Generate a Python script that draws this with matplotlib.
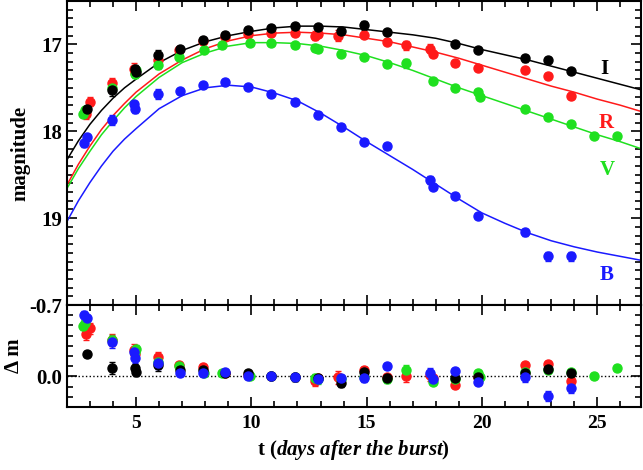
import matplotlib
matplotlib.use('Agg')
import matplotlib.pyplot as plt
from matplotlib.ticker import MultipleLocator, FixedLocator

plt.rcParams['font.family'] = ['Liberation Serif', 'DejaVu Serif']
plt.rcParams['font.weight'] = 'bold'
plt.rcParams['mathtext.fontset'] = 'custom'
plt.rcParams['mathtext.it'] = 'Liberation Serif:italic:bold'
plt.rcParams['mathtext.rm'] = 'Liberation Serif:bold'

# model curves (half days at the steep start)
model_t = [2, 2.5, 3, 3.5, 4, 4.5, 5, 6, 7, 8, 9, 10, 11, 12, 13, 14, 15, 16, 17,
           18, 19, 20, 21, 22, 23, 24, 25, 26, 27]
model_I = [18.33, 18.11, 17.92, 17.76, 17.62, 17.50, 17.40, 17.21, 17.07, 16.97,
           16.90, 16.85, 16.81, 16.79, 16.79, 16.80, 16.83, 16.86, 16.89, 16.93,
           16.99, 17.06, 17.12, 17.18, 17.25, 17.32, 17.39, 17.46, 17.53]
model_R = [18.62, 18.38, 18.17, 17.98, 17.82, 17.68, 17.55, 17.34, 17.18, 17.05,
           16.96, 16.90, 16.87, 16.86, 16.87, 16.89, 16.93, 16.97, 17.03, 17.09,
           17.16, 17.24, 17.32, 17.40, 17.48, 17.55, 17.63, 17.70, 17.78]
model_V = [18.66, 18.43, 18.23, 18.04, 17.88, 17.73, 17.60, 17.38, 17.21, 17.10,
           17.02, 16.98, 16.98, 16.99, 17.02, 17.07, 17.13, 17.21, 17.30, 17.40,
           17.50, 17.59, 17.68, 17.77, 17.86, 17.95, 18.04, 18.12, 18.21]
model_B = [19.04, 18.80, 18.59, 18.40, 18.23, 18.09, 17.97, 17.74, 17.59, 17.50,
           17.47, 17.49, 17.56, 17.65, 17.79, 17.95, 18.12, 18.28, 18.44, 18.61,
           18.78, 18.94, 19.06, 19.17, 19.26, 19.33, 19.39, 19.44, 19.49]

# photometry
t_I = [2.87, 3.95, 4.95, 5.0, 5.97, 6.9, 7.89, 8.87, 9.86, 10.87, 11.88, 12.89,
       13.87, 14.87, 15.87, 18.84, 19.85, 21.85, 22.85, 23.84]
m_I = [17.74, 17.53, 17.28, 17.32, 17.12, 17.05, 16.95, 16.89, 16.83, 16.81, 16.79,
       16.80, 16.85, 16.78, 16.86, 17.00, 17.06, 17.16, 17.18, 17.31]
e_I = [0.03, 0.06, 0.04, 0.04, 0.06, 0.03, 0.03, 0.03, 0.03, 0.03, 0.03, 0.03,
       0.04, 0.05, 0.03, 0.03, 0.03, 0.04, 0.04, 0.03]
d_I = [-0.22, -0.08, -0.08, -0.04, -0.11, -0.06, -0.06, -0.03, -0.03, 0.0, 0.01,
       0.02, 0.06, -0.04, 0.02, 0.02, 0.01, -0.03, -0.07, -0.03]

t_R = [2.85, 3.0, 3.95, 4.9, 4.97, 5.97, 6.85, 7.89, 8.87, 9.86, 10.87, 11.88,
       12.75, 12.89, 13.77, 14.87, 15.87, 16.72, 17.74, 17.86, 18.84, 19.85, 21.85,
       22.85, 23.84]
m_R = [17.80, 17.66, 17.45, 17.28, 17.33, 17.18, 17.07, 16.96, 16.91, 16.88, 16.87,
       16.87, 16.90, 16.88, 16.90, 16.89, 16.97, 17.01, 17.05, 17.11, 17.22, 17.27,
       17.29, 17.36, 17.59]
e_R = [0.06, 0.05, 0.06, 0.06, 0.05, 0.05, 0.03, 0.03, 0.03, 0.03, 0.03, 0.03,
       0.05, 0.03, 0.06, 0.03, 0.03, 0.05, 0.05, 0.03, 0.03, 0.03, 0.03, 0.03, 0.03]
d_R = [-0.42, -0.47, -0.36, -0.26, -0.22, -0.19, -0.11, -0.09, -0.03, -0.01, 0.0,
       0.01, 0.04, 0.02, 0.01, -0.06, 0.01, 0.0, -0.01, 0.02, 0.08, 0.01, -0.11,
       -0.12, 0.04]

t_V = [2.72, 2.8, 3.95, 4.97, 5.0, 5.97, 6.85, 7.95, 8.71, 9.94, 10.87, 11.88,
       12.75, 12.89, 13.87, 14.87, 15.87, 16.72, 17.86, 18.84, 19.85, 19.9, 21.85,
       22.85, 23.84, 24.84, 25.85]
m_V = [17.80, 17.76, 17.50, 17.34, 17.30, 17.24, 17.15, 17.06, 17.01, 16.98, 16.98,
       17.01, 17.04, 17.05, 17.11, 17.15, 17.23, 17.22, 17.42, 17.50, 17.55, 17.60,
       17.74, 17.84, 17.92, 18.05, 18.06]
e_V = [0.03, 0.03, 0.05, 0.05, 0.04, 0.04, 0.03, 0.03, 0.03, 0.03, 0.03, 0.03,
       0.04, 0.04, 0.03, 0.03, 0.03, 0.05, 0.03, 0.03, 0.03, 0.03, 0.03, 0.03,
       0.03, 0.03, 0.03]
d_V = [-0.49, -0.52, -0.36, -0.24, -0.27, -0.14, -0.10, -0.03, -0.03, 0.0, 0.0,
       0.01, 0.02, 0.03, 0.03, 0.01, 0.03, -0.06, 0.05, 0.03, -0.03, 0.01, -0.04,
       -0.06, -0.04, 0.0, -0.08]

t_B = [2.75, 2.87, 3.95, 4.91, 4.97, 5.97, 6.9, 7.89, 8.87, 9.86, 10.87, 11.88,
       12.89, 13.87, 14.87, 15.87, 17.74, 17.86, 18.84, 19.85, 21.85, 22.85, 23.84]
m_B = [18.14, 18.07, 17.87, 17.69, 17.74, 17.57, 17.54, 17.47, 17.43, 17.49, 17.57,
       17.66, 17.81, 17.95, 18.12, 18.17, 18.56, 18.64, 18.74, 18.97, 19.16, 19.44,
       19.44]
e_B = [0.04, 0.03, 0.06, 0.04, 0.05, 0.06, 0.03, 0.03, 0.03, 0.03, 0.03, 0.03,
       0.03, 0.03, 0.03, 0.03, 0.05, 0.03, 0.03, 0.03, 0.04, 0.05, 0.05]
d_B = [-0.60, -0.57, -0.34, -0.24, -0.18, -0.13, -0.03, -0.03, -0.04, 0.0, 0.0,
       0.01, 0.03, 0.02, 0.02, -0.10, -0.03, 0.03, -0.05, 0.05, 0.01, 0.19, 0.11]

colors = {'I': '#000000', 'R': '#ff1a1a', 'V': '#1fe01f', 'B': '#1a1aff'}
bands = [
    ('R', t_R, m_R, e_R, d_R, model_R),
    ('V', t_V, m_V, e_V, d_V, model_V),
    ('I', t_I, m_I, e_I, d_I, model_I),
    ('B', t_B, m_B, e_B, d_B, model_B),
]

fig = plt.figure(figsize=(6.43, 4.70), dpi=100)
ax = fig.add_axes([0.104, 0.351, 0.893, 0.647])
axr = fig.add_axes([0.104, 0.134, 0.893, 0.217], sharex=ax)

for name, t, m, e, d, mod in bands:
    c = colors[name]
    ax.plot(model_t, mod, color=c, lw=1.1, zorder=2)
    ax.errorbar(t, m, yerr=e, fmt='o', color=c, ms=6.5, capsize=2.5, elinewidth=1,
                capthick=1, zorder=3)
    axr.errorbar(t, d, yerr=e, fmt='o', color=c, ms=6.5, capsize=2.5, elinewidth=1,
                 capthick=1, zorder=3)

axr.axhline(0.0, color='black', ls=':', lw=1, zorder=1)

label_pos = {'I': (25.15, 17.28), 'R': (25.05, 17.90), 'V': (25.1, 18.45), 'B': (25.1, 19.66)}
for name, (x, y) in label_pos.items():
    ax.text(x, y, name, color=colors[name], fontsize=15, fontweight='bold',
            ha='left', va='center')

ax.set_xlim(2.0, 26.9)
ax.set_ylim(20.0, 16.5)
axr.set_ylim(0.3, -0.7)

ax.yaxis.set_major_locator(FixedLocator([17, 18, 19]))
ax.yaxis.set_minor_locator(MultipleLocator(0.1))
axr.yaxis.set_major_locator(FixedLocator([-0.7, 0.0]))
axr.yaxis.set_minor_locator(MultipleLocator(0.1))
axr.set_yticklabels(['-0.7', '0.0'])
axr.xaxis.set_major_locator(MultipleLocator(5))
axr.xaxis.set_minor_locator(MultipleLocator(1))

for a in (ax, axr):
    a.tick_params(which='both', direction='in', top=True, right=True, width=1.2)
    a.tick_params(which='major', length=7, labelsize=15)
    a.tick_params(which='minor', length=4)
    for s in a.spines.values():
        s.set_linewidth(1.5)
ax.tick_params(labelbottom=False)
axr.tick_params(axis='x', pad=6, labelsize=14)

ax.set_ylabel('magnitude', fontsize=15, fontweight='bold', labelpad=8)
axr.set_ylabel('Δ m', fontsize=15, fontweight='bold', labelpad=4)
axr.set_xlabel(r'$\mathrm{t}$ $\it{(days\ after\ the\ burst)}$', fontsize=15, labelpad=4)

fig.savefig('out.png', dpi=100)
